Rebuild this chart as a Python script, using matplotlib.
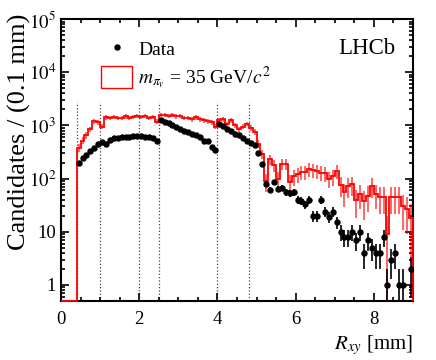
import numpy as np
import matplotlib.pyplot as plt
from matplotlib.lines import Line2D
from matplotlib.patches import Patch
from matplotlib.ticker import FixedLocator, MultipleLocator, LogLocator, FuncFormatter, NullFormatter

plt.rcParams['font.family'] = ['Liberation Serif', 'DejaVu Serif']
plt.rcParams['mathtext.fontset'] = 'stix'

# 0.1 mm bins from 0.4 to 9.0 mm
bin_lo = 0.4
bin_width = 0.1
data_counts = [
    200, 240, 280, 330, 370, 450,                      # 0.4 - 1.0
    480, 450, 540, 575, 590, 600, 610, 615, 620, 620,  # 1.0 - 2.0
    625, 615, 600, 570, 520,                           # 2.0 - 2.5
    1250, 1170, 1090, 1010, 930, 860, 790, 740, 690,   # 2.5 - 3.4
    650, 610, 510, 500, 390, 340,                      # 3.4 - 4.0
    1070, 980, 870, 780, 700, 650, 590, 520,           # 4.0 - 4.8
    460, 420, 300, 190, 80, 62, 85, 64, 67, 55,        # 4.8 - 5.8
    53, 55, 40, 38, 33, 40, 20, 20, 40, 24,            # 5.8 - 6.8
    19, 24, 15, 10, 8, 8, 10, 7, 10, 4,                # 6.8 - 7.8
    7, 5, 4, 4, 8, 1, 3, 4, 1, 1,                      # 7.8 - 8.8
    0, 2,                                              # 8.8 - 9.0
]
mc_35gev = [
    380, 520, 650, 850, 1200, 1150,
    950, 1420, 1400, 1430, 1400, 1390, 1480, 1370, 1450, 1520,
    1440, 1500, 1400, 1450, 1180,
    1600, 1550, 1500, 1560, 1480, 1500, 1400, 1380, 1300,
    1420, 1300, 1250, 1200, 1150, 950,
    1250, 1300, 1050, 1250, 1000, 850, 950, 1070,
    900, 750, 450, 290, 90, 230, 180, 100, 190, 190,
    85, 110, 122, 135, 135, 150, 145, 140, 130, 125,
    100, 110, 140, 75, 55, 72, 78, 40, 52, 38,
    48, 72, 52, 45, 45, 9, 45, 45, 45, 30,
    27, 18,
]
mc_weight = 12.0
boundaries = [0.4, 1.0, 2.0, 2.5, 4.0, 4.8]

data_counts = np.array(data_counts, dtype=float)
mc_35gev = np.array(mc_35gev, dtype=float)
nbins = len(data_counts)
edges = np.round(bin_lo + bin_width * np.arange(nbins + 1), 3)
centers = 0.5 * (edges[:-1] + edges[1:])

ymin, ymax = 0.5, 1e5

fig = plt.figure(figsize=(4.36, 3.6), dpi=100)
ax = fig.add_axes([0.140, 0.164, 0.807, 0.783])
ax.set_yscale('log')

# boundary markers
ax.vlines(boundaries, ymin, 2700, colors='#444444', linestyles=':', linewidth=0.9, zorder=1)

# simulated signal histogram (empty region below 0.4 mm drawn on the axis)
full_edges = np.concatenate([[0.0], edges])
full_mc = np.concatenate([[ymin], np.clip(mc_35gev, ymin, None)])
ax.stairs(full_mc, full_edges, baseline=ymin, color='red', linewidth=1.3, zorder=3, clip_on=False)
mc_err = np.sqrt(mc_35gev * mc_weight)
ax.errorbar(centers, mc_35gev, yerr=mc_err, fmt='none', ecolor='red', alpha=0.7,
            elinewidth=1.2, capsize=0, zorder=2)

# data
sel = data_counts > 0
ax.errorbar(centers[sel], data_counts[sel], yerr=np.sqrt(data_counts[sel]), xerr=bin_width / 2,
            fmt='o', color='black', ms=3.6, elinewidth=1.2, capsize=0, zorder=4)

ax.set_xlim(0, 9)
ax.set_ylim(ymin, ymax)

ax.xaxis.set_major_locator(FixedLocator([0, 2, 4, 6, 8]))
ax.xaxis.set_minor_locator(MultipleLocator(0.5))
ax.yaxis.set_major_locator(LogLocator(base=10, numticks=10))
ax.yaxis.set_minor_locator(LogLocator(base=10, subs=np.arange(2, 10), numticks=20))
ax.yaxis.set_minor_formatter(NullFormatter())


def ylab(v, pos):
    if v == 1:
        return '1'
    if v == 10:
        return '10'
    return r'$10^{%d}$' % int(round(np.log10(v)))


ax.yaxis.set_major_formatter(FuncFormatter(ylab))
ax.tick_params(which='both', direction='in', top=True, right=True, labelsize=13.5, width=1.2)
ax.tick_params(which='major', length=6)
ax.tick_params(which='minor', length=3)
ax.tick_params(axis='x', pad=7)
for s in ax.spines.values():
    s.set_linewidth(1.5)

ax.set_ylabel('Candidates / (0.1 mm)', fontsize=19, loc='top')
ax.yaxis.set_label_coords(-0.085, 1.02)
ax.set_xlabel(r'$R_{xy}$ [mm]', fontsize=15, loc='right')

ax.text(0.95, 0.895, 'LHCb', transform=ax.transAxes, ha='right', va='center', fontsize=16.5)

handles = [
    Line2D([], [], marker='o', color='black', linestyle='none', ms=3.6),
    Patch(facecolor='white', edgecolor='red', linewidth=1.0),
]
labels = ['Data', r'$m_{\pi_{v}}$ = 35 GeV/$c^{2}$']
ax.legend(handles, labels, loc='upper left', bbox_to_anchor=(0.075, 0.98), frameon=False,
          fontsize=14, handlelength=1.6, handleheight=1.3, handletextpad=0.3, labelspacing=0.25,
          borderpad=0.2)

fig.savefig('out.png', dpi=100)
